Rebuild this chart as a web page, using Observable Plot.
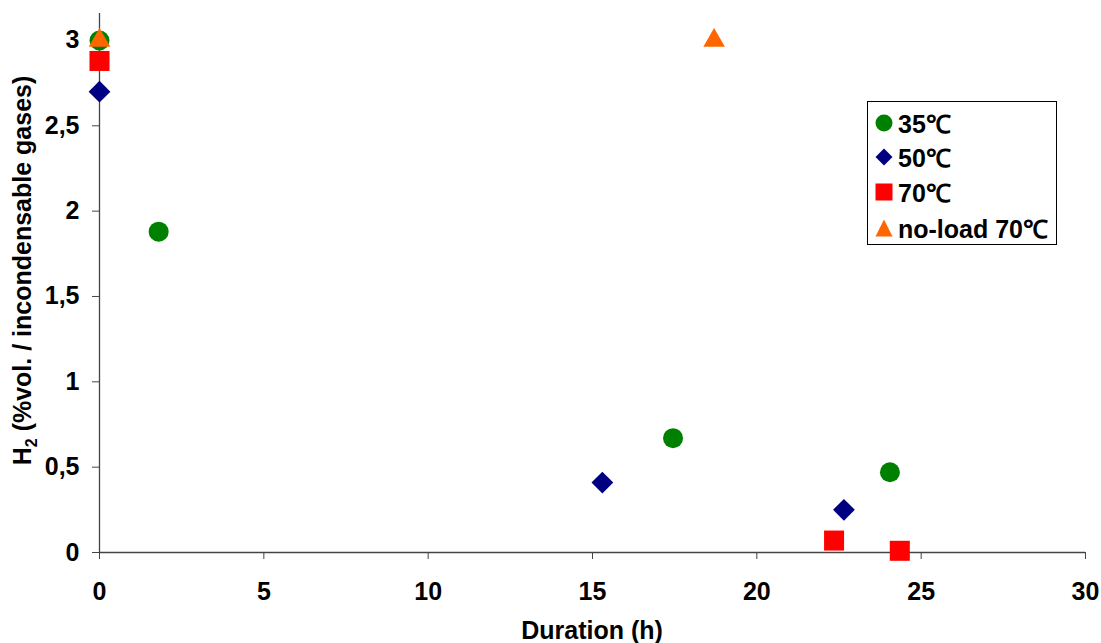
<!DOCTYPE html>
<html>
<head>
<meta charset="utf-8">
<script src="https://cdn.jsdelivr.net/npm/d3@7"></script>
<script src="https://cdn.jsdelivr.net/npm/@observablehq/plot@0.6"></script>
<style>
  body { margin: 0; background: #fff; }
  #wrap { position: relative; width: 1101px; height: 643px; font-family: "Liberation Sans", Arial, sans-serif; }
  #legend { position: absolute; left: 867px; top: 101px; width: 188px; height: 142px; border: 1px solid #000; background: #fff; }
  .row { position: absolute; left: 6px; display: flex; align-items: center; font-weight: bold; font-size: 25px; color: #000; white-space: nowrap; }
  .row svg { margin-right: 4px; }
</style>
</head>
<body>
<div id="wrap"></div>
<script>
// Data
const seriesNames = ["35℃", "50℃", "70℃", "no-load 70℃"];
const dur35 = [0, 1.8, 17.45, 24.05];
const h2_35 = [3.0, 1.88, 0.67, 0.47];
const dur50 = [0, 15.3, 22.65];
const h2_50 = [2.7, 0.41, 0.25];
const dur70 = [0, 22.35, 24.35];
const h2_70 = [2.88, 0.07, 0.01];
const durNoLoad = [0, 18.7];
const h2NoLoad = [3.0, 3.0];
const xTicks = [0, 5, 10, 15, 20, 25, 30];
const yTicks = [0, 0.5, 1, 1.5, 2, 2.5, 3];
const xLabel = "Duration (h)";
const yLabelParts = ["H", "2", " (%vol. / incondensable gases)"];

const colors = ["#008000", "#000080", "#FF0000", "#FF6600"];
const symbols = ["circle", "diamond2", "square", "triangle"];
const radii = [10, 9.8, 11.3, 8];

const seriesData = [[dur35, h2_35], [dur50, h2_50], [dur70, h2_70], [durNoLoad, h2NoLoad]];
const tables = seriesData.map(([xs, ys], i) => xs.map((x, j) => ({series: seriesNames[i], duration: x, h2: ys[j]})));

const fmt = d => String(d).replace(".", ",");

const plot = Plot.plot({
  width: 1101,
  height: 643,
  marginLeft: 99,
  marginRight: 16,
  marginTop: 13,
  marginBottom: 91,
  style: {fontFamily: "'Liberation Sans', Arial, sans-serif", fontSize: "25px", fontWeight: "bold", color: "#000", background: "#fff"},
  x: {domain: [0, 30], ticks: xTicks},
  y: {domain: [0, 3.158], ticks: yTicks},
  marks: [
    Plot.axisX({ticks: xTicks, tickSize: 7, tickPadding: 23, stroke: "#444", label: null, fontSize: 25, fontWeight: "bold"}),
    Plot.axisY({ticks: yTicks, tickSize: 7, tickPadding: 13, tickFormat: fmt, stroke: "#444", label: null, fontSize: 25, fontWeight: "bold"}),
    Plot.ruleY([0], {stroke: "#444", strokeWidth: 1.3}),
    Plot.ruleX([0], {stroke: "#444", strokeWidth: 1.3}),
    ...tables.map((t, i) => Plot.dot(t, {x: "duration", y: "h2", symbol: () => symbols[i], r: radii[i], fill: colors[i], stroke: "none"}))
  ],
  symbol: {type: "identity"}
});

const wrap = document.getElementById("wrap");
wrap.appendChild(plot);

// Axis titles, placed from the plot's own scales
const sx = plot.scale("x"), sy = plot.scale("y");
const svg = d3.select(plot);
const xMid = (sx.range[0] + sx.range[1]) / 2;
svg.append("text")
  .attr("x", xMid).attr("y", 639)
  .attr("text-anchor", "middle")
  .attr("font-size", 25).attr("font-weight", "bold").attr("fill", "#000")
  .text(xLabel);

const yMid = (sy.range[0] + sy.range[1]) / 2 - 12;
const yt = svg.append("text")
  .attr("transform", `translate(31,${yMid}) rotate(-90)`)
  .attr("text-anchor", "middle")
  .attr("font-size", 25).attr("font-weight", "bold").attr("fill", "#000");
yt.append("tspan").text(yLabelParts[0]);
yt.append("tspan").attr("font-size", 16).attr("dy", 6).text(yLabelParts[1]);
yt.append("tspan").attr("dy", -6).text(yLabelParts[2]);

// Legend
const legend = document.createElement("div");
legend.id = "legend";
const rowTops = [4, 38, 73, 109];
const legendShapes = [
  '<circle cx="10" cy="10" r="8.5"/>',
  '<path d="M10 1.5 L18.5 10 L10 18.5 L1.5 10 Z"/>',
  '<rect x="1.5" y="1.5" width="17" height="17"/>',
  '<path d="M10 1.5 L18.5 18.5 L1.5 18.5 Z"/>'
];
seriesNames.forEach((name, i) => {
  const row = document.createElement("div");
  row.className = "row";
  row.style.top = rowTops[i] + "px";
  row.innerHTML = `<svg width="20" height="20" viewBox="0 0 20 20" fill="${colors[i]}">${legendShapes[i]}</svg><span>${name}</span>`;
  legend.appendChild(row);
});
wrap.appendChild(legend);
</script>
</body>
</html>
